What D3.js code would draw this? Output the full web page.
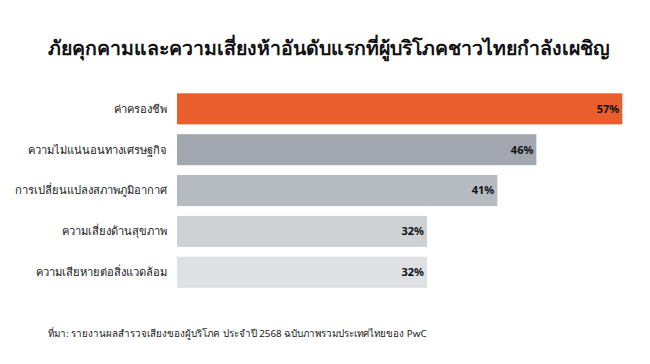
<!DOCTYPE html>
<html>
<head>
<meta charset="utf-8">
<script src="https://cdn.jsdelivr.net/npm/d3@7"></script>
<style>
  html, body { margin: 0; padding: 0; background: #ffffff; }
  svg { display: block; }
  text { font-family: "Noto Sans", "DejaVu Sans", sans-serif; }
</style>
</head>
<body>
<div id="chart"></div>
<script>
const titleText = "ภัยคุกคามและความเสี่ยงห้าอันดับแรกที่ผู้บริโภคชาวไทยกำลังเผชิญ";
const sourceText = "ที่มา: รายงานผลสำรวจเสียงของผู้บริโภค ประจำปี 2568 ฉบับภาพรวมประเทศไทยของ PwC";
const categories = ["ค่าครองชีพ", "ความไม่แน่นอนทางเศรษฐกิจ", "การเปลี่ยนแปลงสภาพภูมิอากาศ", "ความเสี่ยงด้านสุขภาพ", "ความเสียหายต่อสิ่งแวดล้อม"];
const values = [57, 46, 41, 32, 32];
const colors = ["#e85e2c", "#a3a8b0", "#b6bbc2", "#cfd2d5", "#dee0e3"];

const W = 650, H = 364;
const svg = d3.select("#chart").append("svg").attr("width", W).attr("height", H);

const x = d3.scaleLinear().domain([0, 57]).range([177, 622.3]);
const y = d3.scaleBand().domain(categories).range([93.3, 287.8]).paddingInner(0.24).paddingOuter(0);

svg.append("text")
  .attr("x", 328.5).attr("y", 55)
  .attr("text-anchor", "middle")
  .attr("font-size", 19.5).attr("font-weight", "bold")
  .attr("fill", "#111")
  .text(titleText);

const rows = svg.append("g").selectAll("g").data(categories).join("g");

rows.append("rect")
  .attr("x", x(0))
  .attr("y", d => y(d))
  .attr("width", (d, i) => x(values[i]) - x(0))
  .attr("height", y.bandwidth())
  .attr("fill", (d, i) => colors[i]);

rows.append("text")
  .attr("x", 167)
  .attr("y", d => y(d) + y.bandwidth() / 2)
  .attr("dy", "0.35em")
  .attr("text-anchor", "end")
  .attr("font-size", 11.2)
  .attr("fill", "#1a1a1a")
  .text(d => d);

rows.append("text")
  .attr("x", (d, i) => x(values[i]) - 3)
  .attr("y", d => y(d) + y.bandwidth() / 2)
  .attr("dy", "0.35em")
  .attr("text-anchor", "end")
  .attr("font-size", 11)
  .attr("font-weight", "bold")
  .attr("fill", "#111")
  .text((d, i) => values[i] + "%");

svg.append("text")
  .attr("x", 48).attr("y", 337)
  .attr("font-size", 9.8)
  .attr("fill", "#1a1a1a")
  .text(sourceText);
</script>
</body>
</html>
